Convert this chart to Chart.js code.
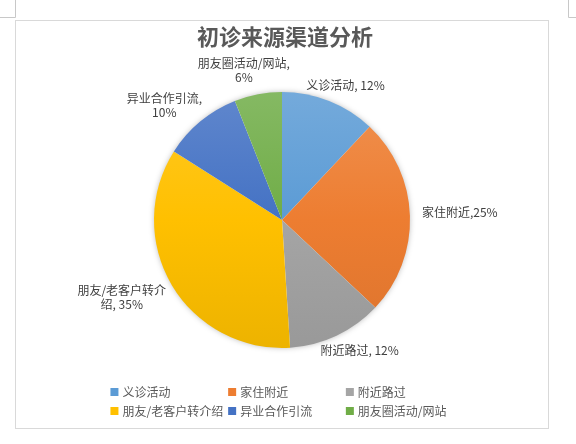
<!DOCTYPE html>
<html>
<head>
<meta charset="utf-8">
<script src="https://cdn.jsdelivr.net/npm/chart.js@4.4.0/dist/chart.umd.min.js"></script>
<style>
  html, body { margin: 0; padding: 0; background: #fff; }
  #wrap { width: 576px; height: 444px; }
</style>
</head>
<body>
<div id="wrap"><canvas id="pie" width="576" height="444"></canvas></div>
<script>
const chartTitle = '初诊来源渠道分析';
const categories = ['义诊活动', '家住附近', '附近路过', '朋友/老客户转介绍', '异业合作引流', '朋友圈活动/网站'];
const percents = [12, 25, 12, 35, 10, 6];
// separator between name and value, as typed in the original labels
const labelSep = [', ', ',', ', ', ', ', ', ', ', '];
const sliceColors = ['#5b9bd5', '#ed7d31', '#a5a5a5', '#ffc000', '#4472c4', '#70ad47'];

const FONT = '"Noto Sans CJK SC", "Noto Sans", sans-serif';
const PIE_R = 128;
// small tweaks so the labels sit where Excel's "best fit" put them
const labelNudge = [[-1, -2], [4, -3], [3, 1], [-5, 1], [-7, 1], [-4, -2]];

// mix a hex colour toward white (amt > 0) or black (amt < 0)
function shade(hex, amt) {
  const n = parseInt(hex.slice(1), 16);
  const t = amt > 0 ? 255 : 0, p = Math.abs(amt);
  const mix = (v) => Math.round(v + (t - v) * p);
  return `rgb(${mix(n >> 16)},${mix((n >> 8) & 255)},${mix(n & 255)})`;
}

const sliceFill = (ctx) => {
  const chart = ctx.chart;
  const area = chart.chartArea;
  const base = sliceColors[ctx.dataIndex];
  if (!area) return base;
  const cy = (area.top + area.bottom) / 2;
  const g = chart.ctx.createLinearGradient(0, cy - PIE_R, 0, cy + PIE_R);
  g.addColorStop(0, shade(base, 0.15));
  g.addColorStop(0.5, base);
  g.addColorStop(1, shade(base, -0.07));
  return g;
};

function wrapText(c, text, maxW) {
  const lines = [];
  let line = '';
  for (const ch of text) {
    if (line && c.measureText(line + ch).width > maxW) {
      const idx = line.lastIndexOf(' ');
      if (idx > 0) {
        lines.push(line.slice(0, idx));
        line = line.slice(idx + 1) + ch;
      } else {
        lines.push(line);
        line = ch;
      }
    } else {
      line += ch;
    }
  }
  lines.push(line);
  return lines.map((l) => l.trim());
}

// frame, title and a soft shadow under the pie
const backdrop = {
  id: 'backdrop',
  beforeDraw(chart) {
    const c = chart.ctx;
    c.save();
    c.fillStyle = '#fff';
    c.fillRect(0, 0, chart.width, chart.height);
    c.strokeStyle = '#c8c8c8';
    c.lineWidth = 1;
    c.beginPath();
    c.moveTo(0, 17.5); c.lineTo(15.5, 17.5); c.lineTo(15.5, 0);
    c.moveTo(568.5, 0); c.lineTo(568.5, 17.5); c.lineTo(576, 17.5);
    c.stroke();
    c.strokeStyle = '#d9d9d9';
    c.strokeRect(15.5, 20.5, 533, 408);

    c.fillStyle = '#595959';
    c.font = `bold 22px ${FONT}`;
    c.textAlign = 'center';
    c.textBaseline = 'middle';
    c.fillText(chartTitle, 285, 37);
    c.restore();
  },
  beforeDatasetsDraw(chart) {
    const arc = chart.getDatasetMeta(0).data[0];
    if (!arc) return;
    const c = chart.ctx;
    c.save();
    c.shadowColor = 'rgba(0,0,0,0.35)';
    c.shadowBlur = 6;
    c.fillStyle = '#fff';
    c.beginPath();
    c.arc(arc.x, arc.y, arc.outerRadius - 1, 0, Math.PI * 2);
    c.fill();
    c.restore();
  }
};

// "name, xx%" labels outside each slice
const sliceLabels = {
  id: 'sliceLabels',
  afterDatasetsDraw(chart) {
    const c = chart.ctx;
    const arcs = chart.getDatasetMeta(0).data;
    c.save();
    c.font = `12px ${FONT}`;
    c.fillStyle = '#404040';
    c.textAlign = 'center';
    c.textBaseline = 'middle';
    const lh = 14;
    arcs.forEach((arc, i) => {
      const mid = (arc.startAngle + arc.endAngle) / 2;
      const cos = Math.cos(mid), sin = Math.sin(mid);
      const lines = wrapText(c, categories[i] + labelSep[i] + percents[i] + '%', 95);
      const w = Math.max(...lines.map((l) => c.measureText(l).width));
      const h = lines.length * lh;
      const d = arc.outerRadius + 8;
      const cx = arc.x + d * cos + (w / 2) * cos + labelNudge[i][0];
      const cy = arc.y + d * sin + (h / 2) * sin + labelNudge[i][1];
      lines.forEach((l, k) => {
        c.fillText(l, cx, cy - h / 2 + lh / 2 + k * lh);
      });
    });
    c.restore();
  }
};

// Excel-like legend: three aligned columns under the pie
const gridLegend = {
  id: 'gridLegend',
  afterDraw(chart) {
    const c = chart.ctx;
    c.save();
    c.font = `12px ${FONT}`;
    c.textBaseline = 'middle';
    const box = 8, gap = 4;
    const itemW = Math.max(...categories.map((t) => c.measureText(t).width)) + box + gap;
    const colW = itemW + 5;
    const cols = 3;
    const left = 282 - (cols * colW) / 2 + 5;
    const rowTop = 392, rowH = 19;
    categories.forEach((t, i) => {
      const x = left + (i % cols) * colW;
      const y = rowTop + Math.floor(i / cols) * rowH;
      c.fillStyle = sliceColors[i];
      c.fillRect(x, y - box / 2, box, box);
      c.fillStyle = '#595959';
      c.fillText(t, x + box + gap, y);
    });
    c.restore();
  }
};

new Chart(document.getElementById('pie'), {
  type: 'pie',
  data: {
    labels: categories,
    datasets: [{
      data: percents,
      backgroundColor: sliceFill,
      borderWidth: 0,
      hoverOffset: 0,
      radius: PIE_R
    }]
  },
  options: {
    responsive: false,
    animation: false,
    layout: { padding: { top: 92, bottom: 96, left: 100, right: 112 } },
    plugins: {
      legend: { display: false },
      title: { display: false },
      tooltip: { enabled: false }
    }
  },
  plugins: [backdrop, sliceLabels, gridLegend]
});
</script>
</body>
</html>
